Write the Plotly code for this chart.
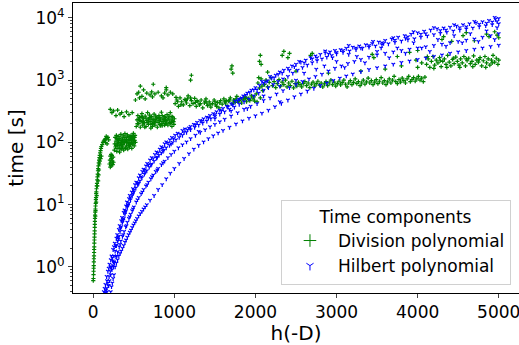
import plotly.graph_objects as go

# ---------------- data: (h(-D), time [s]) ----------------
div_streak = [(0,0.6),(2,0.65),(3,0.75),(4,0.85),(5,0.95),(6,1.05),(7,1.2),(8,1.35),(9,1.5),(10,1.7),
    (11,1.9),(12,2.1),(13,2.4),(14,2.7),(15,3.0),(16,3.4),(17,3.8),(18,4.3),(19,4.8),(20,5.4),(21,6.0),
    (22,6.8),(24,7.6),(26,8.5),(28,9.5),(30,10.5),(32,12),(34,13),(36,15),(38,16),(40,18),(43,20),(46,22),
    (49,25),(52,28),(55,31),(58,35),(61,38),(64,42),(68,47),(72,52),(76,57),(80,62),(85,68),(90,74),(95,80),
    (100,86),(110,92),(120,100),(130,105),(140,110),(150,100),(160,115),(170,95),(180,120),(190,110),
    (65,30),(70,36),(75,45),(80,50),(90,55),(100,60),(50,20),(60,24),(35,11),(42,14),(25,6.5),(28,8),
    (200,45),(205,52),(210,60),(215,48),(220,42),(225,55),(230,62),(235,50),(240,44),(245,58),(250,48),
    (210,40),(230,45),(220,64)]
div_block1 = [(260,75),(265,95),(270,120),(275,85),(280,105),(285,130),(290,72),(295,90),(300,112),(305,80),
    (310,100),(315,125),(320,88),(325,70),(330,108),(335,95),(340,135),(345,78),(350,102),(355,118),(360,85),
    (365,92),(370,128),(375,75),(380,110),(385,98),(390,138),(395,82),(400,105),(405,120),(410,90),(415,100),
    (420,132),(425,78),(430,112),(435,95),(440,125),(445,85),(450,108),(455,118),(460,92),(465,130),(470,100),
    (475,80),(480,115),(485,125),(490,95),(495,140),(500,105),(505,88),(510,120),(515,130),(520,100),(290,115),
    (330,80),(370,100),(410,110),(450,95),(490,110),(350,90),(430,100),(400,80),(470,120),(280,90),(320,115),
    (360,110),(440,88),(480,95),(510,108),(300,95),(390,120),(460,112)]
div_block2 = [(530,180),(540,230),(550,270),(560,200),(570,250),(580,175),(590,215),(600,290),(610,190),(620,240),
    (630,205),(640,265),(650,180),(660,225),(670,300),(680,195),(690,245),(700,215),(710,170),(720,260),(730,200),
    (740,235),(750,285),(760,190),(770,220),(780,250),(790,175),(800,210),(810,270),(820,195),(830,230),(840,305),
    (850,185),(860,240),(870,215),(880,260),(890,200),(900,225),(910,280),(920,190),(930,245),(940,210),(950,300),
    (960,230),(970,180),(980,255),(990,215),(1000,240),(545,200),(575,225),(605,255),(635,175),(665,210),(695,275),
    (725,230),(755,205),(785,240),(815,225),(845,200),(875,235),(905,205),(935,265),(965,210),(995,195),(560,235),
    (620,210),(680,230),(740,205),(800,245),(860,215),(920,230),(980,220),(700,250),(760,230),(820,250),(880,190),
    (590,260),(650,245),(710,195),(770,265),(830,185),(890,250),(950,200),(610,220),(730,180),(850,270),(970,260)]
div_low_outliers = [(210,340),(230,300),(250,320),(280,270),(300,330),(330,285),(350,300),(380,260),(410,310),
    (440,280),(480,300),(540,600),(560,640),(600,550),(620,700),(660,620),(700,580),(720,650),(760,600),(800,640),
    (840,560),(880,620),(900,700),(920,580),(950,640),(980,600),(520,480),(570,520),(640,500),(730,540),(860,520),
    (580,800),(740,860),(900,760),(150,115),(160,125)]
div_band1 = [(1010,420),(1030,480),(1050,380),(1070,520),(1090,450),(1110,400),(1130,490),(1150,430),(1170,560),
    (1190,390),(1210,470),(1230,420),(1250,510),(1270,380),(1290,450),(1310,400),(1330,480),(1350,360),(1370,430),
    (1390,500),(1410,390),(1430,450),(1450,370),(1470,420),(1490,480),(1510,400),(1530,440),(1550,360),(1570,470),
    (1590,410),(1610,500),(1630,430),(1650,390),(1670,460),(1690,520),(1710,420),(1730,480),(1750,440),(1770,550),
    (1790,460),(1810,500),(1830,430),(1850,480),(1870,540),(1890,450),(1910,510),(1930,470),(1950,560),(1970,500),
    (1990,460),(1020,530),(1080,400),(1140,470),(1200,520),(1260,440),(1320,420),(1380,460),(1440,410),(1500,450),
    (1560,430),(1620,450),(1680,480),(1740,460),(1800,470),(1860,500),(1920,490),(1980,540),(1040,450),(1160,500),
    (1280,470),(1400,430),(1520,380),(1640,470),(1760,500),(1880,520)]
div_band2 = [(2010,600),(2030,900),(2050,750),(2070,1050),(2090,680),(2110,850),(2130,1000),(2150,780),(2170,920),
    (2190,1100),(2210,820),(2230,950),(2250,760),(2270,880),(2290,1020),(2310,800),(2330,930),(2350,850),(2370,1000),
    (2390,780),(2410,900),(2430,820),(2450,960),(2470,750),(2490,880),(2510,800),(2530,920),(2550,850),(2570,780),
    (2590,880),(2610,950),(2630,820),(2650,900),(2670,760),(2690,860),(2710,930),(2730,800),(2750,880),(2770,960),
    (2790,830),(2810,900),(2830,780),(2850,870),(2870,950),(2890,820),(2910,900),(2930,1000),(2950,850),(2970,930),
    (2990,800),(3010,880),(3030,960),(3050,840),(3070,910),(3090,1000),(3110,860),(3130,780),(3150,900),(3170,980),
    (3190,850),(3210,920),(3230,1050),(3250,880),(3270,950),(3290,820),(3310,900),(3330,1000),(3350,860),(3370,940),
    (3390,1080),(3410,900),(3430,980),(3450,850),(3470,930),(3490,1020),(3510,880),(3530,960),(3550,1100),(3570,900),
    (3590,980),(3610,850),(3630,940),(3650,1050),(3670,900),(3690,1000),(3710,1150),(3730,950),(3750,880),(3770,1020),
    (3790,930),(3810,1080),(3830,980),(3850,900),(3870,1050),(3890,1150),(3910,950),(3930,1020),(3950,1100),
    (3970,960),(3990,1050),(4010,1150),(4030,1000),(4050,1080),(4070,950),(4090,1120),(2020,450),(2040,1100),
    (2060,520),(2080,800)]
div_band3 = [(4110,1800),(4130,2200),(4150,1600),(4170,2000),(4190,2400),(4210,1750),(4230,2100),(4250,1900),
    (4270,2300),(4290,1650),(4310,2000),(4330,2200),(4350,1800),(4370,2500),(4390,1950),(4410,1700),(4430,2150),
    (4450,1850),(4470,2350),(4490,2000),(4510,1750),(4530,2200),(4550,1900),(4570,2400),(4590,1700),(4610,2050),
    (4630,2250),(4650,1850),(4670,2000),(4690,2450),(4710,1800),(4730,2100),(4750,1950),(4770,2300),(4790,1700),
    (4810,2050),(4830,2400),(4850,1900),(4870,2200),(4890,1750),(4910,2100),(4930,2500),(4950,1950),(4970,2250),
    (4990,1800),(4120,2400),(4200,1550),(4280,2050),(4360,1600),(4440,2250),(4520,1600),(4600,2200),(4680,1650),
    (4760,2150),(4840,1600),(4920,1900),(5000,2100)]
div_high_outliers = [(1200,1000),(1210,1200),(1700,1500),(1720,1300),(1710,1700),(2050,2000),(2060,2500),(2070,1800),
    (2330,2500),(2350,2900),(2400,2300),(2420,2700),(2680,2500),(2700,2700),(3440,2600),(3460,2300),(3750,2400),
    (3900,2800),(3980,2100),(4000,3000),(4300,4500),(4320,5000),(4560,5200),(4600,5800),(4850,5500),(4880,5000),
    (4950,6000),(4980,5300),(5000,4800),(4420,4200),(4700,4300),(2150,1350),(2500,1400),(2900,1300),(3300,1400),
    (3600,1500),(3800,1700),(4000,1600),(4050,1900)]

hil_a_upper = [(130,0.40),(140,0.45),(150,0.52),(155,0.42),(165,0.7),(170,0.6),(180,0.85),(190,0.95),(200,1.1),
    (210,1.0),(215,1.3),(225,1.5),(235,1.4),(245,1.9),(255,2.1),(265,2.4),(275,2.2),(285,2.9),(295,3.3),(305,3.0),
    (315,4.0),(325,4.6),(335,4.2),(345,5.5),(355,6.2),(365,5.8),(375,7.5),(385,8.2),(395,7.6),(405,9.5),(415,11),
    (425,10),(440,12.5),(450,14),(460,13),(475,16),(490,18),(500,17),(515,21),(530,23),(545,22),(560,27),(575,30),
    (590,28),(605,34),(620,37),(635,36),(650,42),(665,46),(680,44),(700,52),(720,57),(740,55),(760,64),(780,70),
    (800,68),(820,78),(840,85),(860,82),(880,95),(900,102),(920,98),(945,110),(970,120),(990,115),(1010,130),
    (1040,140),(1070,135),(1100,155),(1130,165),(1160,160),(1200,180),(1240,195),(1280,210),(1320,225),(1360,240),
    (1400,255),(1440,270),(1480,290),(1520,310),(1560,330),(1600,350),(1650,380),(1700,420),(1750,460),(1800,500),
    (1850,560),(1900,620),(1950,690),(2000,760),(2050,830),(2100,900),(2150,980),(2200,1080),(2250,1200),(2300,1350),
    (2350,1450),(2400,1550),(2450,1700),(2500,1800),(2560,1950),(2620,2100),(2680,2300),(2740,2450),(2800,2600),
    (2860,2750),(2920,2850),(2980,3000),(3050,3100),(3120,3250),(3200,3400),(3280,3550),(3360,3700),(3440,3900),
    (3520,4100),(3600,4350),(3680,4600),(3760,4900),(3840,5200),(3920,5500),(4000,5800),(4080,6100),(4160,6400),
    (4240,6700),(4320,6900),(4400,7100),(4480,7400),(4560,7800),(4640,8100),(4720,8400),(4800,8700),(4880,9100),
    (4960,9500),(5000,9800),(2020,700),(2080,950),(2180,1150),(2280,1250),(2420,1450),(2540,2000),(2700,2200),
    (2860,2950),(3000,2800),(3150,3600),(3300,3300),(3450,4200),(3580,3900),(3700,4800),(3850,4700),(3950,6000),
    (4100,5600),(4200,7000),(4350,6400),(4450,7800),(4600,7200),(4700,8800),(4850,8200),(4950,10200),(4980,8800),
    (1120,145),(1180,170),(1260,190),(1340,220),(1420,250),(1500,280),(1580,320),(1660,370),(1720,400),(1780,470),
    (1830,520),(1880,580),(1930,640),(1980,700),(2130,940),(2230,1100),(2330,1300),(2480,1650),(2600,1900),
    (2760,2300),(2900,2650),(3080,3000),(3240,3300),(3400,3600),(3560,4000),(3720,4400),(3880,5000),(4040,5500),
    (4280,6300),(4520,7000),(4760,7900),(4920,8600)]
hil_a_lower = [(150,0.38),(165,0.45),(180,0.55),(195,0.7),(210,0.85),(225,1.0),(240,1.25),(255,1.5),(270,1.8),
    (285,2.2),(300,2.6),(315,3.1),(330,3.7),(345,4.4),(360,5.2),(375,6.0),(390,7.0),(405,8.0),(420,9.2),(440,10.5),
    (460,12),(480,14),(500,16),(525,18.5),(550,21),(575,24),(600,27),(630,31),(660,35),(690,40),(720,45),(750,50),
    (780,56),(810,62),(840,68),(870,75),(900,82),(940,90),(980,100),(1020,110),(1060,120),(1100,130),(1150,145),
    (1200,160),(1250,175),(1300,190),(1350,205),(1400,220),(1450,240),(1500,260),(1560,285),(1620,310),(1680,340),
    (1740,370),(1800,410),(1860,450),(1920,500),(1980,560),(2040,620),(2100,690),(2160,760),(2220,850),(2280,950),
    (2340,1050),(2400,1150),(2460,1300),(2520,1450),(2580,1600),(2640,1750),(2700,1900),(2760,2050),(2820,2200),
    (2880,2350),(2940,2500),(3000,2650),(3080,2800),(3160,2950),(3240,3100),(3320,3250),(3400,3400),(3480,3550),
    (3560,3700),(3640,3850),(3720,4050),(3800,4250),(3880,4450),(3960,4650),(4040,4900),(4120,5150),(4200,5400),
    (4280,5650),(4360,5900),(4440,6150),(4520,6400),(4600,6650),(4680,6900),(4760,7200),(4840,7500),(4920,7800),
    (5000,8100),(190,0.5),(250,1.2),(310,2.8),(370,5.6),(430,9.8),(490,15),(560,22),(640,33),(710,43),(790,58),
    (860,72),(960,95)]
hil_b = [(170,0.4),(185,0.5),(200,0.6),(215,0.75),(230,0.9),(245,1.05),(260,1.2),(280,1.45),(300,1.75),(320,2.1),
    (340,2.6),(360,3.1),(380,3.7),(400,4.4),(420,5.2),(440,6),(460,7),(480,8),(500,9.2),(530,11),(560,13),(590,15),
    (620,17.5),(650,20),(680,23),(710,26),(740,30),(770,34),(800,38),(840,44),(880,50),(920,57),(960,64),(1000,72),
    (1050,82),(1100,92),(1150,102),(1200,115),(1260,130),(1320,145),(1380,160),(1440,178),(1500,195),(1560,215),
    (1620,235),(1700,265),(1780,300),(1860,340),(1940,380),(2020,420),(2100,470),(2180,520),(2260,600),(2340,680),
    (2420,760),(2500,850),(2580,950),(2660,1050),(2740,1150),(2820,1250),(2900,1400),(2980,1550),(3060,1700),
    (3140,1850),(3220,2000),(3300,2150),(3400,2350),(3500,2550),(3600,2700),(3700,2850),(3800,3000),(3900,3150),
    (4000,3300),(4100,3450),(4200,3600),(4300,3800),(4400,4000),(4500,4200),(4600,4400),(4700,4600),(4800,4900),
    (4900,5200),(5000,5600),(250,1.0),(290,1.5),(330,2.3),(370,3.3),(410,4.6),(450,6.4),(490,8.5),(545,12),(605,16),
    (665,21),(725,28),(790,36),(860,47)]
hil_c = [(215,0.4),(235,0.55),(255,0.75),(270,1.0),(300,1.3),(330,1.65),(360,2.0),(390,2.5),(420,3.0),(450,3.6),
    (480,4.3),(510,5.1),(540,6.0),(580,7.2),(620,8.5),(660,10),(700,11.8),(750,14),(800,17.5),(850,21),(900,26),
    (950,32),(1000,38),(1060,46),(1120,55),(1180,66),(1240,78),(1300,90),(1360,102),(1420,115),(1480,128),
    (1540,142),(1600,156),(1680,175),(1760,198),(1840,222),(1920,245),(2000,268),(2080,295),(2160,330),(2240,375),
    (2320,425),(2400,480),(2480,540),(2560,600),(2640,670),(2720,740),(2800,820),(2880,900),(2960,990),(3040,1080),
    (3120,1170),(3200,1260),(3300,1370),(3400,1480),(3500,1590),(3600,1700),(3700,1810),(3800,1920),(3900,2030),
    (4000,2150),(4100,2280),(4200,2410),(4300,2550),(4400,2700),(4500,2850),(4600,3000),(4700,3150),(4800,3300),
    (4900,3480),(5000,3650),(225,0.48),(245,0.65),(285,1.15),(315,1.5),(345,1.8),(375,2.2),(405,2.7),(435,3.3),
    (465,3.9),(495,4.7),(525,5.5),(560,6.6),(600,7.8),(640,9.2)]
hil_scatter = [(2600,1300),(2750,1500),(2850,1700),(3000,2000),(3100,1600),(3250,2400),(3350,1900),(3500,2900),
    (3650,2300),(3750,3300),(3850,2700),(4050,3300),(4150,2900),(4250,4500),(4350,3500),(4450,5200),(4550,4000),
    (4650,5600),(4750,4200),(4850,6200),(4950,4500),(4980,7000),(3950,4000),(3550,3300),(3150,2600),(2950,2300),
    (1300,150),(1500,240),(1700,320),(1900,350),(2100,560),(2300,800),(2500,1000),(2300,450)]

series_names = ["Division polynomial", "Hilbert polynomial"]
legend_title = "Time components"
x_ticks = [0, 1000, 2000, 3000, 4000, 5000]
y_ticks = [1, 10, 100, 1000, 10000]
y_ticktext = ["10<sup>0</sup>", "10<sup>1</sup>", "10<sup>2</sup>", "10<sup>3</sup>", "10<sup>4</sup>"]

div_pts = div_streak + div_block1 + div_block2 + div_low_outliers + div_band1 + div_band2 + div_band3 + div_high_outliers
hil_pts = hil_a_upper + hil_a_lower + hil_b + hil_c + hil_scatter

GREEN = "#008000"
BLUE = "#0000ff"
FONT = "DejaVu Sans"
FS = 17

fig = go.Figure()
fig.add_trace(go.Scatter(
    x=[p[0] for p in div_pts], y=[p[1] for p in div_pts], mode="markers", showlegend=False,
    marker=dict(symbol="cross-thin", size=3, color=GREEN, line=dict(width=1.2, color=GREEN))))
fig.add_trace(go.Scatter(
    x=[p[0] for p in hil_pts], y=[p[1] for p in hil_pts], mode="markers", showlegend=False,
    marker=dict(symbol="y-down", size=3, color=BLUE, line=dict(width=1.2, color=BLUE))))
# legend entries
fig.add_trace(go.Scatter(x=[None], y=[None], mode="markers", name=series_names[0],
    marker=dict(symbol="cross-thin", size=9, color=GREEN, line=dict(width=1, color=GREEN))))
fig.add_trace(go.Scatter(x=[None], y=[None], mode="markers", name=series_names[1],
    marker=dict(symbol="y-down", size=6, color=BLUE, line=dict(width=1, color=BLUE))))

minor_vals = [m * 10 ** e for e in range(-1, 5) for m in range(2, 10)]

fig.update_layout(
    width=519, height=345,
    margin=dict(l=73, r=0, t=3, b=52),
    paper_bgcolor="white", plot_bgcolor="white",
    font=dict(family=FONT, size=FS, color="black"),
    showlegend=True,
    legend=dict(
        title=dict(text=legend_title, side="top center", font=dict(size=FS)),
        x=0.982, y=0.028, xanchor="right", yanchor="bottom",
        bgcolor="rgba(255,255,255,0.85)", bordercolor="#d0d0d0", borderwidth=1,
        font=dict(size=FS), itemwidth=46, tracegroupgap=0,
    ),
    xaxis=dict(
        range=[-250, 5250], tickvals=x_ticks, ticks="outside", ticklen=4, tickwidth=1,
        ticklabeloverflow="allow",
        showline=True, linecolor="black", linewidth=1, mirror=True, showgrid=False, zeroline=False,
        title=dict(text="h(-D)", standoff=6), tickfont=dict(size=FS),
    ),
    yaxis=dict(
        type="log", range=[-0.42, 4.24], tickvals=y_ticks, ticktext=y_ticktext,
        ticks="outside", ticklen=4, tickwidth=1,
        minor=dict(tickvals=minor_vals, ticks="outside", ticklen=2, tickwidth=0.8, showgrid=False),
        showline=True, linecolor="black", linewidth=1, mirror=True, showgrid=False, zeroline=False,
        title=dict(text="time [s]", standoff=6), tickfont=dict(size=FS),
    ),
)

fig.write_html("out.html")
